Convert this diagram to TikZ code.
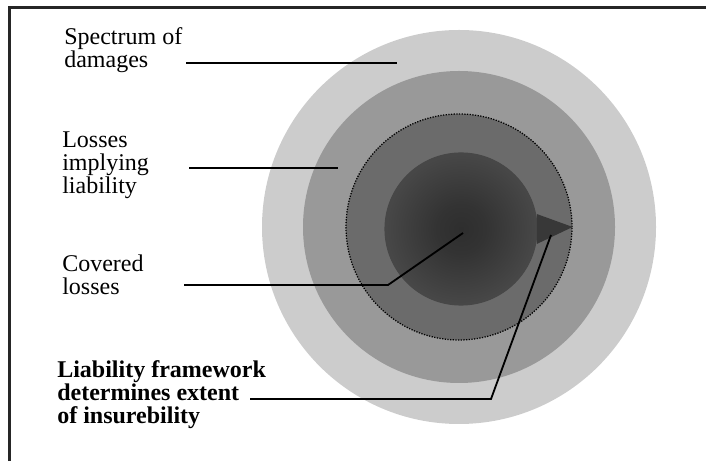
\documentclass[tikz,border=0pt]{standalone}
\usepackage{fontspec}
\setmainfont{Liberation Serif}
\usetikzlibrary{positioning,shapes}
\pgfdeclareradialshading{coverfade}{\pgfpointorigin}{color(0bp)=(black!82); color(8bp)=(black!80); color(50bp)=(black!60)}

\begin{document}
\begin{tikzpicture}[
    l/.style={line width=1.3pt},%
    r/.style={circle,inner sep=0pt},%
    t/.style={align=left,anchor=base west,inner sep=0pt,font=\fontsize{17.07}{16.7}\selectfont},%
    tb/.style={t,font=\fontsize{17.07}{16.7}\selectfont\bfseries}]
    \useasboundingbox (0,0) rectangle (17.65,11.525);
    \draw[line width=1.6pt,black!85] (0.2375,0) -- (0.2375,11.3375) -- (17.65,11.3375);
    % rings
    \coordinate (C) at (11.475,5.85);
    \node[r,fill=black!20,minimum size=9.85cm] (spectrum) at (C) {};
    \node[r,fill=black!40,minimum size=7.8cm] (liab) at (C) {};
    \node[r,fill=black!58,draw,line width=0.9pt,dash pattern=on 0.9pt off 1pt,minimum size=5.65cm] (frame) at (C) {};
    \node[r,shading=coverfade,draw=black!72,line width=0.8pt,minimum size=3.8cm] (cover) at (11.525,5.8) {};
    \fill[black!78] ([shift={(-0.02,0.375)}]cover.east) -- (frame.east) -- ([shift={(-0.02,-0.375)}]cover.east) -- cycle;
    % labels (base = last line)
    \node[t] (spec) at (1.6,9.825) {Spectrum of\\damages};
    \node[t] (loss) at (1.55,6.675) {Losses\\implying\\liability};
    \node[t] (cov) at (1.55,4.15) {Covered\\losses};
    \node[tb] (insur) at (1.425,0.925) {Liability framework\\determines extent\\of insurebility};
    % leaders
    \coordinate (spec-a) at (4.65,9.95);  \coordinate (spec-b) at (9.925,9.95);
    \coordinate (loss-a) at (4.725,7.325); \coordinate (loss-b) at (8.45,7.325);
    \coordinate (cov-a) at (4.6,4.4);     \coordinate (cov-b) at (9.7,4.4);
    \coordinate (cov-c) at (11.575,5.7);
    \coordinate (insur-a) at (6.25,1.55); \coordinate (insur-b) at (12.275,1.55);
    \coordinate (insur-c) at (13.775,5.65);
    \draw[l] (spec-a) -- (spec-b);
    \draw[l] (loss-a) -- (loss-b);
    \draw[l] (cov-a) -- (cov-b) -- (cov-c);
    \draw[l] (insur-a) -- (insur-b) -- (insur-c);
\end{tikzpicture}
\end{document}
